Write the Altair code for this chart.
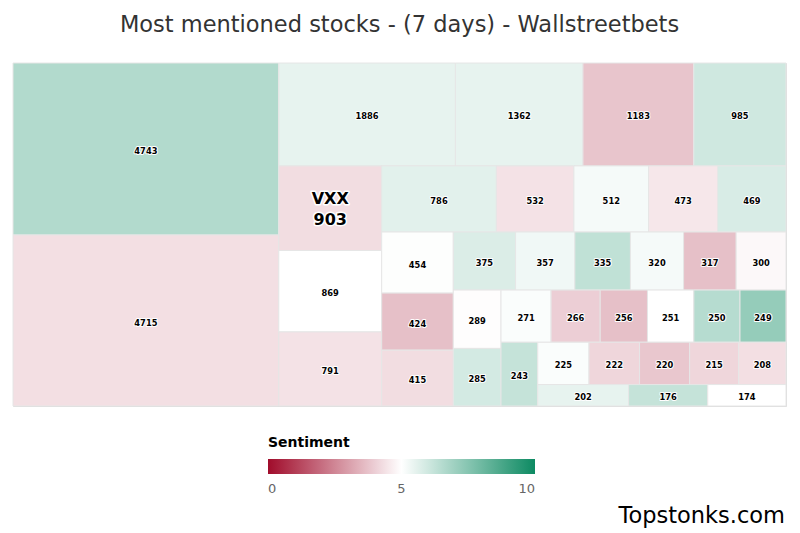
import math
import altair as alt
import pandas as pd

# ---- data ----
values = [4743, 4715, 1886, 1362, 1183, 985, 903, 869, 791, 786,
          532, 512, 473, 469, 454, 424, 415, 375, 357, 335,
          320, 317, 300, 289, 285, 271, 266, 256, 251, 250,
          249, 243, 225, 222, 220, 215, 208, 202, 176, 174]
sentiment = [6.6, 4.35, 5.5, 5.5, 3.8, 6.0, 4.3, 5.0, 4.4, 5.6,
             4.4, 5.2, 4.5, 5.8, 5.05, 3.7, 4.3, 5.75, 5.3, 6.3,
             5.2, 3.7, 4.85, 4.95, 5.9, 5.1, 4.0, 3.7, 5.0, 6.5,
             7.2, 6.2, 5.1, 4.15, 3.85, 4.15, 4.35, 5.5, 6.2, 5.0]
tickers = {903: "VXX"}
legend_values = [0, 5, 10]
title_text = "Most mentioned stocks - (7 days) - Wallstreetbets"
watermark = ["Topstonks.com"]

W, H = 773, 343  # plot area in pixels


# ---- squarified treemap layout (Highcharts-style low-aspect-ratio) ----
def treemap(vals, width, height):
    nan = float("nan")
    total_v = float(sum(vals))
    g = dict(width=width, height=height, direction=0, total=0.0,
             nW=0.0, lW=0.0, nH=0.0, lH=0.0, el=[])
    lp = dict(total=None, lR=nan, nR=nan)
    plot = dict(x=0.0, y=0.0)
    out = []

    def ratio(a, b):
        try:
            if a != a or b != b:
                return nan
            return max(a / b, b / a)
        except ZeroDivisionError:
            return math.inf

    def sdiv(a, b):
        if a is None:
            return nan
        if b == 0:
            return math.inf
        return a / b

    def add(el):
        lp["total"] = g["el"][-1] if g["el"] else None
        g["total"] += el
        if g["direction"] == 0:
            g["lW"] = g["nW"]
            lh = sdiv(lp["total"], g["lW"])
            lp["lR"] = ratio(g["lW"], lh)
            g["nW"] = g["total"] / g["height"]
            nh = sdiv(lp["total"], g["nW"])
            lp["nR"] = ratio(g["nW"], nh)
        else:
            g["lH"] = g["nH"]
            lw = sdiv(lp["total"], g["lH"])
            lp["lR"] = ratio(lw, g["lH"])
            g["nH"] = g["total"] / g["width"]
            nw = sdiv(lp["total"], g["nH"])
            lp["nR"] = ratio(nw, g["nH"])
        g["el"].append(el)

    def calc(last):
        if last:
            gW, gH = g["nW"], g["nH"]
            keep = None
        else:
            gW, gH = g["lW"], g["lH"]
            keep = g["el"][-1]
        end = len(g["el"]) - 1
        for i, p in enumerate(g["el"]):
            if last or i < end:
                if g["direction"] == 0:
                    pw, ph = gW, p / gW
                else:
                    ph, pw = gH, p / gH
                out.append((plot["x"], plot["y"], pw, ph))
                if g["direction"] == 0:
                    plot["y"] += ph
                else:
                    plot["x"] += pw
        g["nW"] = 0.0
        g["lW"] = 0.0
        g["el"] = []
        g["total"] = 0.0
        if g["direction"] == 0:
            g["width"] -= gW
        else:
            g["height"] -= gH
        plot["y"] = height - g["height"]
        plot["x"] = width - g["width"]
        g["direction"] = 1 - g["direction"]
        if not last:
            add(keep)

    n = len(vals)
    for i, v in enumerate(vals):
        add(width * height * v / total_v)
        if lp["nR"] > lp["lR"]:
            calc(False)
        if i == n - 1:
            calc(True)
    return out


rects = treemap(values, W, H)
df = pd.DataFrame({
    "value": values,
    "sentiment": sentiment,
    "x": [r[0] for r in rects],
    "x2": [r[0] + r[2] for r in rects],
    "y": [r[1] for r in rects],
    "y2": [r[1] + r[3] for r in rects],
})
df["cx"] = (df["x"] + df["x2"]) / 2
df["cy"] = (df["y"] + df["y2"]) / 2
df["ticker"] = [tickers.get(v, "") for v in values]
df["label"] = df["value"].astype(str)
df["big"] = df["ticker"] + "\n" + df["label"]

xs = alt.Scale(domain=[0, W], nice=False, zero=False)
ys = alt.Scale(domain=[0, H], nice=False, zero=False, reverse=True)

base = alt.Chart(df)

cells = base.mark_rect(stroke="#e6e6e6", strokeWidth=1).encode(
    x=alt.X("x:Q", scale=xs, axis=None),
    x2="x2:Q",
    y=alt.Y("y:Q", scale=ys, axis=None),
    y2="y2:Q",
    color=alt.Color(
        "sentiment:Q",
        scale=alt.Scale(domain=[0, 5, 10], range=["#a00c2b", "#ffffff", "#0d8a62"],
                        interpolate="rgb"),
        legend=alt.Legend(
            title="Sentiment",
            orient="none",
            direction="horizontal",
            legendX=255,
            legendY=373,
            gradientLength=267,
            gradientThickness=15,
            gradientStrokeWidth=0,
            values=legend_values,
            titleFont="DejaVu Sans",
            titleFontSize=14,
            titleFontWeight="bold",
            titleColor="#000000",
            titlePadding=9,
            labelFont="DejaVu Sans",
            labelFontSize=13,
            labelColor="#666666",
            labelOffset=9,
            tickCount=3,
        ),
    ),
)

small = base.transform_filter(alt.datum.ticker == "")
halo = small.mark_text(font="DejaVu Sans", fontSize=8.3, fontWeight="bold",
                       stroke="white", strokeWidth=2, strokeJoin="round",
                       baseline="middle", align="center", dy=3).encode(
    x=alt.X("cx:Q", scale=xs), y=alt.Y("cy:Q", scale=ys), text="label:N")
txt = small.mark_text(font="DejaVu Sans", fontSize=8.3, fontWeight="bold",
                      color="#000000", baseline="middle", align="center", dy=3).encode(
    x=alt.X("cx:Q", scale=xs), y=alt.Y("cy:Q", scale=ys), text="label:N")

bigd = base.transform_filter(alt.datum.ticker != "")
big_halo = bigd.mark_text(font="DejaVu Sans", fontSize=16, fontWeight="bold",
                          lineBreak="\n", lineHeight=21, stroke="white", strokeWidth=3,
                          strokeJoin="round", baseline="middle", align="center",
                          dy=-9).encode(
    x=alt.X("cx:Q", scale=xs), y=alt.Y("cy:Q", scale=ys), text="big:N")
big_txt = bigd.mark_text(font="DejaVu Sans", fontSize=16, fontWeight="bold",
                         lineBreak="\n", lineHeight=21, color="#000000",
                         baseline="middle", align="center", dy=-9).encode(
    x=alt.X("cx:Q", scale=xs), y=alt.Y("cy:Q", scale=ys), text="big:N")

wm = alt.Chart(pd.DataFrame({"t": watermark})).mark_text(
    font="DejaVu Sans", fontSize=22.5, color="#000000", align="right", baseline="alphabetic"
).encode(x=alt.value(772), y=alt.value(460), text="t:N")

chart = alt.layer(cells, halo, txt, big_halo, big_txt, wm).properties(
    width=W,
    height=H,
    title=alt.TitleParams(title_text, font="DejaVu Sans", fontSize=22.5,
                          fontWeight="normal", color="#333333", anchor="middle",
                          offset=26),
    autosize=alt.AutoSizeParams(type="none"),
    padding={"left": 5, "top": 55, "right": 6, "bottom": 127},
).configure_view(strokeWidth=0).configure(background="white")

chart.save("out.html", embed_options={"renderer": "svg", "actions": False})
